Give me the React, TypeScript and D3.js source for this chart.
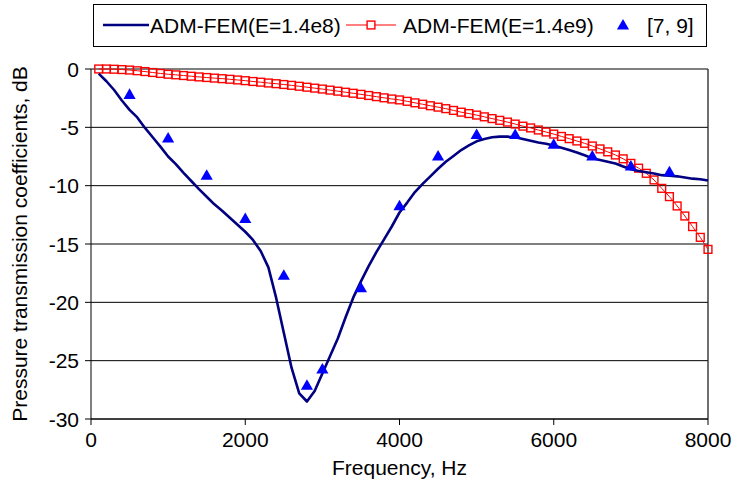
import React from "react";
import * as d3 from "d3";

const freqs: number[] = d3.range(100, 8001, 100);

const softValues: number[] = [
  -0.4, -1.05, -1.8, -2.7, -3.5, -4.15, -5.05, -5.85, -6.65, -7.5,
  -8.15, -8.9, -9.6, -10.3, -10.95, -11.6, -12.15, -12.75, -13.35, -13.95,
  -14.65, -15.6, -17.0, -19.6, -22.6, -25.6, -27.8, -28.5, -27.6, -26.1,
  -24.6, -23.1, -21.3, -19.6, -18.2, -16.9, -15.7, -14.6, -13.5, -12.3,
  -11.45, -10.55, -9.85, -9.2, -8.55, -7.95, -7.45, -6.95, -6.55, -6.2,
  -6.0, -5.85, -5.8, -5.8, -5.85, -6.0, -6.15, -6.3, -6.4, -6.55,
  -6.75, -6.95, -7.15, -7.4, -7.65, -7.8, -7.95, -8.1, -8.35, -8.6,
  -8.75, -8.85, -8.95, -9.1, -9.15, -9.2, -9.3, -9.4, -9.45, -9.55,
];

const stiffValues: number[] = [
  0.0, 0.0, -0.02, -0.05, -0.09, -0.15, -0.22, -0.3, -0.38, -0.45,
  -0.5, -0.56, -0.62, -0.68, -0.73, -0.78, -0.83, -0.88, -0.94, -1.0,
  -1.07, -1.13, -1.2, -1.26, -1.33, -1.4, -1.48, -1.56, -1.64, -1.72,
  -1.81, -1.9, -1.99, -2.08, -2.17, -2.27, -2.37, -2.47, -2.57, -2.65,
  -2.77, -2.9, -3.02, -3.15, -3.27, -3.4, -3.55, -3.7, -3.82, -3.95,
  -4.1, -4.25, -4.4, -4.55, -4.72, -4.9, -5.05, -5.23, -5.4, -5.58,
  -5.78, -5.97, -6.17, -6.37, -6.6, -6.85, -7.1, -7.37, -7.7, -8.09,
  -8.5, -8.94, -9.51, -10.23, -10.94, -11.74, -12.6, -13.51, -14.43, -15.46,
];

const refFreqs: number[] = [500, 1000, 1500, 2000, 2500, 2800, 3000, 3500, 4000, 4500, 5000, 5500, 6000, 6500, 7000, 7500];
const refValues: number[] = [-2.26, -6.0, -9.2, -12.9, -17.77, -27.2, -25.8, -18.84, -11.8, -7.54, -5.7, -5.7, -6.54, -7.54, -8.4, -8.9];

const xTicks: number[] = [0, 2000, 4000, 6000, 8000];
const yTicks: number[] = [0, -5, -10, -15, -20, -25, -30];

const legendLabels: string[] = ["ADM-FEM(E=1.4e8)", "ADM-FEM(E=1.4e9)", "[7, 9]"];

const W = 736;
const H = 488;
const L = 91, R = 708, T = 69, B = 419;
const FONT = "Arial, 'Liberation Sans', Helvetica, sans-serif";
const FS = 21;

export default function App() {
  const x = d3.scaleLinear().domain([0, 8000]).range([L, R]);
  const y = d3.scaleLinear().domain([0, -30]).range([T, B]);

  const line = d3
    .line<[number, number]>()
    .x((d) => x(d[0]))
    .y((d) => y(d[1]));

  const softPts: [number, number][] = freqs.map((f, i) => [f, softValues[i]]);
  const stiffPts: [number, number][] = freqs.map((f, i) => [f, stiffValues[i]]);

  const tri = d3.symbol().type(d3.symbolTriangle).size(64)() as string;
  const sq = 7.8;

  return (
    <svg width={W} height={H} style={{ position: "absolute", left: 0, top: 0, background: "#fff" }} fontFamily={FONT}>
      <rect x={0} y={0} width={W} height={H} fill="#fff" />
      {/* gridlines */}
      {yTicks.map((t) => (
        <line key={"g" + t} x1={L} x2={R} y1={y(t)} y2={y(t)} stroke="#000" strokeWidth={1} />
      ))}
      {/* plot border right */}
      <line x1={R} x2={R} y1={T} y2={B} stroke="#222" strokeWidth={1.3} />
      {/* axes */}
      <line x1={L} x2={L} y1={T} y2={B} stroke="#000" strokeWidth={1} />
      <line x1={L} x2={R} y1={B} y2={B} stroke="#000" strokeWidth={1} />
      {yTicks.map((t) => (
        <g key={"yt" + t}>
          <line x1={L - 6} x2={L} y1={y(t)} y2={y(t)} stroke="#000" />
          <text x={L - 12} y={y(t) + 7.5} textAnchor="end" fontSize={FS} fill="#000">
            {t}
          </text>
        </g>
      ))}
      {xTicks.map((t) => (
        <g key={"xt" + t}>
          <line x1={x(t)} x2={x(t)} y1={B} y2={B + 6} stroke="#000" />
          <text x={x(t)} y={B + 28} textAnchor="middle" fontSize={FS} fill="#000">
            {t}
          </text>
        </g>
      ))}
      <text x={(L + R) / 2} y={475} textAnchor="middle" fontSize={FS} fill="#000">
        Frequency, Hz
      </text>
      <text
        transform={`translate(27, ${(T + B) / 2}) rotate(-90)`}
        textAnchor="middle"
        fontSize={FS}
        fill="#000"
      >
        Pressure transmission coefficients, dB
      </text>

      {/* stiff series */}
      <path d={line(stiffPts) as string} fill="none" stroke="#ff0000" strokeWidth={1} />
      {stiffPts.map((p, i) => (
        <rect
          key={"s" + i}
          x={x(p[0]) - sq / 2}
          y={y(p[1]) - sq / 2}
          width={sq}
          height={sq}
          fill="none"
          stroke="#ff0000"
          strokeWidth={1.4}
        />
      ))}
      {/* soft series */}
      <path d={line(softPts) as string} fill="none" stroke="#000080" strokeWidth={2.6} strokeLinejoin="round" />
      {/* reference triangles */}
      {refFreqs.map((f, i) => (
        <path key={"r" + i} d={tri} transform={`translate(${x(f)}, ${y(refValues[i])})`} fill="#0000ff" />
      ))}

      {/* legend */}
      <rect x={93.5} y={4.5} width={613} height={42} fill="#fff" stroke="#000" strokeWidth={1} />
      <line x1={103} x2={149} y1={25} y2={25} stroke="#000080" strokeWidth={2.6} />
      <text x={150} y={32.5} fontSize={FS} fill="#000">
        {legendLabels[0]}
      </text>
      <line x1={346} x2={396} y1={25} y2={25} stroke="#ff0000" strokeWidth={1} />
      <rect x={371 - sq / 2} y={25 - sq / 2} width={sq} height={sq} fill="#fff" stroke="#ff0000" strokeWidth={1.4} />
      <text x={403} y={32.5} fontSize={FS} fill="#000">
        {legendLabels[1]}
      </text>
      <path d={tri} transform="translate(623, 26)" fill="#0000ff" />
      <text x={647} y={32.5} fontSize={FS} fill="#000">
        {legendLabels[2]}
      </text>
    </svg>
  );
}
